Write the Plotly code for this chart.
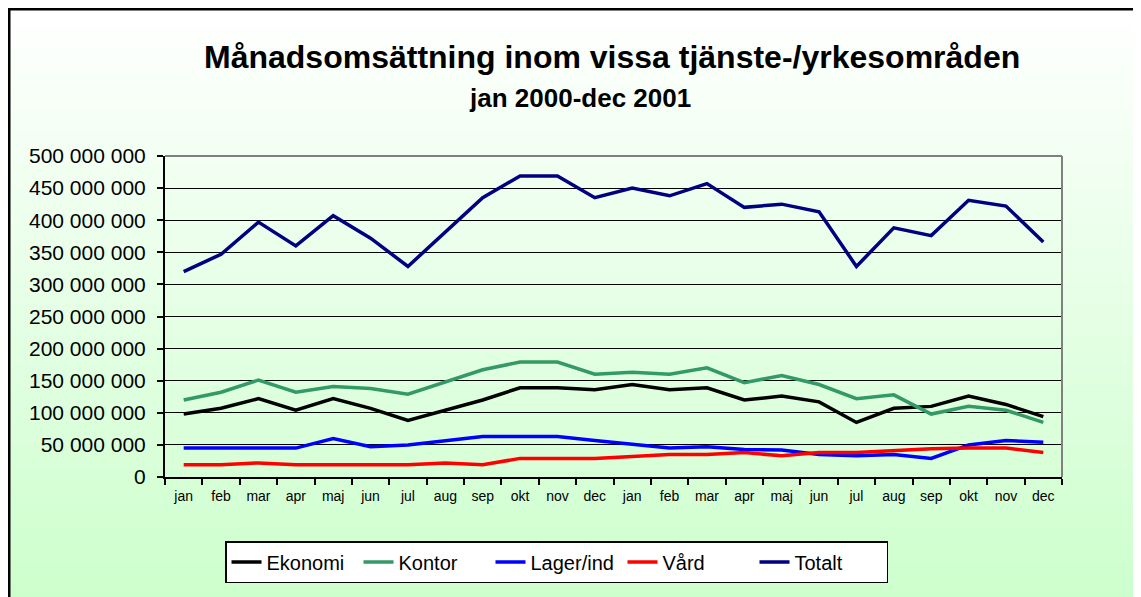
import base64, struct, zlib
import plotly.graph_objects as go

months = ["jan", "feb", "mar", "apr", "maj", "jun", "jul", "aug", "sep", "okt", "nov", "dec"] * 2

ekonomi = [98, 107, 122, 104, 122, 107, 88, 104, 120, 139, 139, 136,
           144, 136, 139, 120, 126, 117, 85, 107, 110, 126, 113, 94]
kontor = [120, 132, 151, 132, 141, 138, 129, 148, 167, 179, 179, 160,
          163, 160, 170, 147, 158, 144, 122, 128, 98, 110, 104, 85]
lager = [45, 45, 45, 45, 60, 47, 50, 57, 63, 63, 63, 57,
         51, 45, 47, 43, 42, 35, 33, 35, 29, 50, 57, 54]
vard = [19, 19, 22, 19, 19, 19, 19, 22, 19, 29, 29, 29,
        32, 35, 35, 38, 33, 38, 38, 41, 44, 45, 45, 38]
totalt = [320, 347, 397, 360, 407, 372, 328, 382, 435, 469, 469, 435,
          450, 438, 457, 420, 425, 413, 328, 388, 376, 431, 422, 366]

series = [("Ekonomi", ekonomi, "#000000"),
          ("Kontor", kontor, "#339966"),
          ("Lager/ind", lager, "#0000FF"),
          ("Vård", vard, "#FF0000"),
          ("Totalt", totalt, "#000080")]

FONT = "Arial, Liberation Sans, sans-serif"

# vertical gradient image (white -> light green) as inline PNG
def gradient_png(h=256):
    rows = b""
    for i in range(h):
        t = i / (h - 1)
        r = int(round(255 - t * (255 - 0xCC)))
        g = 255
        b = int(round(255 - t * (255 - 0xCC)))
        rows += b"\x00" + bytes([r, g, b])
    def chunk(tag, data):
        c = tag + data
        return struct.pack(">I", len(data)) + c + struct.pack(">I", zlib.crc32(c) & 0xffffffff)
    png = b"\x89PNG\r\n\x1a\n"
    png += chunk(b"IHDR", struct.pack(">IIBBBBB", 1, h, 8, 2, 0, 0, 0))
    png += chunk(b"IDAT", zlib.compress(rows))
    png += chunk(b"IEND", b"")
    return "data:image/png;base64," + base64.b64encode(png).decode()

OFF = 8  # page body margin
W, H = 1141, 597
# plot area in page pixels
PL, PR, PT, PB = 165, 1062, 156, 477
L, R, T, B = PL - OFF, PR - OFF, PT - OFF, PB - OFF
pw, ph = R - L, B - T

def px(x):  # page x -> paper
    return (x - OFF - L) / pw

def py(y):  # page y -> paper
    return (B - (y - OFF)) / ph

fig = go.Figure()
xs = list(range(len(months)))
for name, vals, color in series:
    fig.add_trace(go.Scatter(
        x=xs, y=[v * 1e6 for v in vals], name=name, mode="lines",
        line=dict(color=color, width=3.5)))

fig.update_layout(
    width=W, height=H,
    margin=dict(l=L, r=W - R, t=T, b=H - B, autoexpand=False),
    paper_bgcolor="#ccffcc",
    plot_bgcolor="rgba(0,0,0,0)",
    separators=", ",
    font=dict(family=FONT, color="#000000"),
    showlegend=True,
    legend=dict(orientation="h", x=px(225), xanchor="left", y=py(541), yanchor="top",
                bgcolor="#FFFFFF", bordercolor="#000000", borderwidth=1.5,
                font=dict(family=FONT, size=20), itemwidth=30,
                entrywidth=87, entrywidthmode="pixels", tracegroupgap=0),
    images=[dict(source=gradient_png(), xref="paper", yref="paper",
                 x=px(OFF), y=py(OFF), sizex=W / pw, sizey=H / ph,
                 sizing="stretch", layer="below", xanchor="left", yanchor="top")],
    xaxis=dict(range=[-0.5, len(months) - 0.5], tickvals=xs, ticktext=months,
               showgrid=False, zeroline=False, ticks="",
               showline=True, linecolor="#000000", linewidth=2,
               tickfont=dict(family=FONT, size=14), ticklabelstandoff=5,
               minor=dict(tickvals=[i - 0.5 for i in range(len(months) + 1)],
                          ticks="outside", ticklen=6, tickcolor="#000000", tickwidth=2,
                          showgrid=False)),
    yaxis=dict(range=[0, 500e6], dtick=50e6, tickformat=",d",
               showgrid=True, gridcolor="#000000", gridwidth=1, zeroline=False,
               showline=True, linecolor="#000000", linewidth=2,
               ticks="outside", ticklen=6, tickcolor="#000000", tickwidth=2,
               ticklabelstandoff=7,
               tickfont=dict(family=FONT, size=21)),
    shapes=[
        dict(type="line", xref="paper", yref="paper", x0=0, x1=1, y0=1, y1=1,
             line=dict(color="#808080", width=2)),
        dict(type="line", xref="paper", yref="paper", x0=1, x1=1, y0=0, y1=1,
             line=dict(color="#808080", width=2)),
        dict(type="line", xref="paper", yref="paper", x0=px(OFF), x1=px(W + 20), y0=py(OFF + 1), y1=py(OFF + 1),
             line=dict(color="#000000", width=3)),
        dict(type="line", xref="paper", yref="paper", x0=px(OFF + 1), x1=px(OFF + 1), y0=py(OFF), y1=py(H + 20),
             line=dict(color="#000000", width=3)),
    ],
    annotations=[
        dict(text="<b>Månadsomsättning inom vissa tjänste-/yrkesområden</b>",
             xref="paper", yref="paper", x=px(612), y=py(57), showarrow=False,
             xanchor="center", yanchor="middle", font=dict(family=FONT, size=32)),
        dict(text="<b>jan 2000-dec 2001</b>",
             xref="paper", yref="paper", x=px(580), y=py(98), showarrow=False,
             xanchor="center", yanchor="middle", font=dict(family=FONT, size=26)),
    ],
)

fig.write_html("out.html")
